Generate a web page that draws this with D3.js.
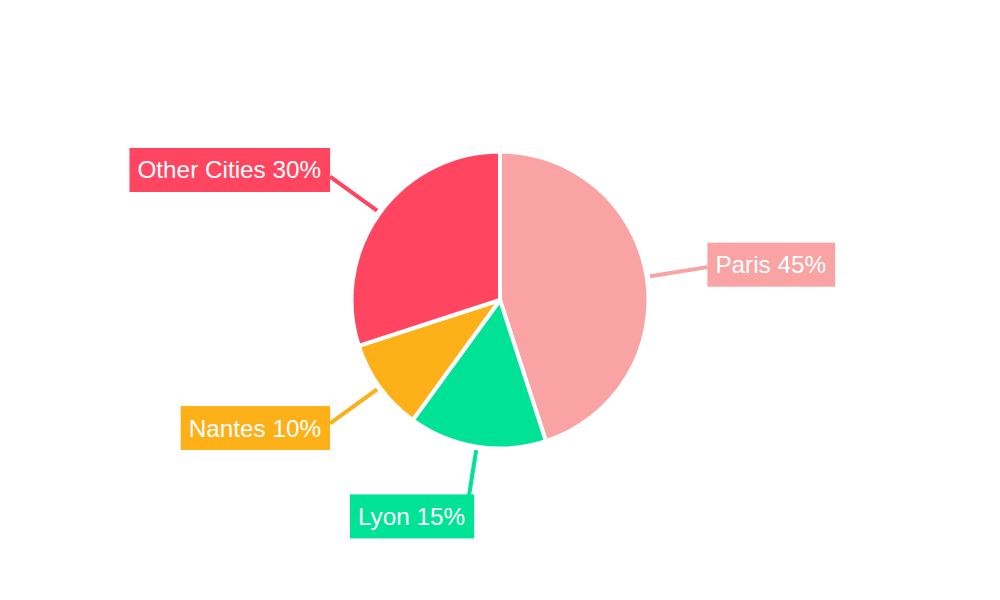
<!DOCTYPE html>
<html><head><meta charset="utf-8">
<script src="https://cdn.jsdelivr.net/npm/d3@7"></script>
<style>html,body{margin:0;padding:0;background:#fff;}svg{display:block;}</style>
</head><body>
<svg id="chart" width="1000" height="600"></svg>
<script>
const categories = ["Paris", "Lyon", "Nantes", "Other Cities"];
const values = [45, 15, 10, 30];
const colors = ["#f9a3a4", "#00e396", "#feb019", "#ff4560"];

const svg = d3.select("#chart");
const cx = 500, cy = 300, R = 148.5;
const g = svg.append("g").attr("transform", `translate(${cx},${cy})`);

const pie = d3.pie().sort(null).value(d => d.v);
const data = pie(categories.map((c, i) => ({c, v: values[i], color: colors[i]})));
const arc = d3.arc().innerRadius(0).outerRadius(R);

g.selectAll("path.slice").data(data).join("path")
  .attr("class", "slice")
  .attr("d", arc)
  .attr("fill", d => d.data.color)
  .attr("stroke", "#fff").attr("stroke-width", 4).attr("stroke-linejoin", "round");

const total = d3.sum(values);
const r0 = R + 3.5, r1 = 210;
function pt(a, r) { return [Math.sin(a) * r, -Math.cos(a) * r]; }

data.forEach(d => {
  const a = (d.startAngle + d.endAngle) / 2;
  const p0 = pt(a, r0), p1 = pt(a, r1);
  g.append("line")
    .attr("x1", p0[0]).attr("y1", p0[1]).attr("x2", p1[0]).attr("y2", p1[1])
    .attr("stroke", d.data.color).attr("stroke-width", 4);
});

data.forEach(d => {
  const a = (d.startAngle + d.endAngle) / 2;
  const p1 = pt(a, r1);
  const label = `${d.data.c} ${Math.round(d.data.v / total * 100)}%`;
  const lg = g.append("g");
  const t = lg.append("text").text(label)
    .attr("font-family", "Liberation Sans, Arial, sans-serif")
    .attr("font-size", 24.3).attr("fill", "#fff")
    .attr("dominant-baseline", "central");
  const w = t.node().getComputedTextLength() + 17, h = 44;
  let bx, by;
  const sx = Math.sin(a), cyv = -Math.cos(a);
  if (Math.abs(sx) > 0.5) {
    bx = sx > 0 ? p1[0] : p1[0] - w;
    by = p1[1] - h / 2 - 1 + 9.5 * cyv;
  } else {
    bx = p1[0] - w + 7;
    by = cyv > 0 ? p1[1] - 13 : p1[1] - h + 13;
  }
  lg.insert("rect", "text").attr("x", bx).attr("y", by).attr("width", w).attr("height", h)
    .attr("fill", d.data.color);
  t.attr("x", bx + 8).attr("y", by + h / 2);
});
</script>
</body></html>
